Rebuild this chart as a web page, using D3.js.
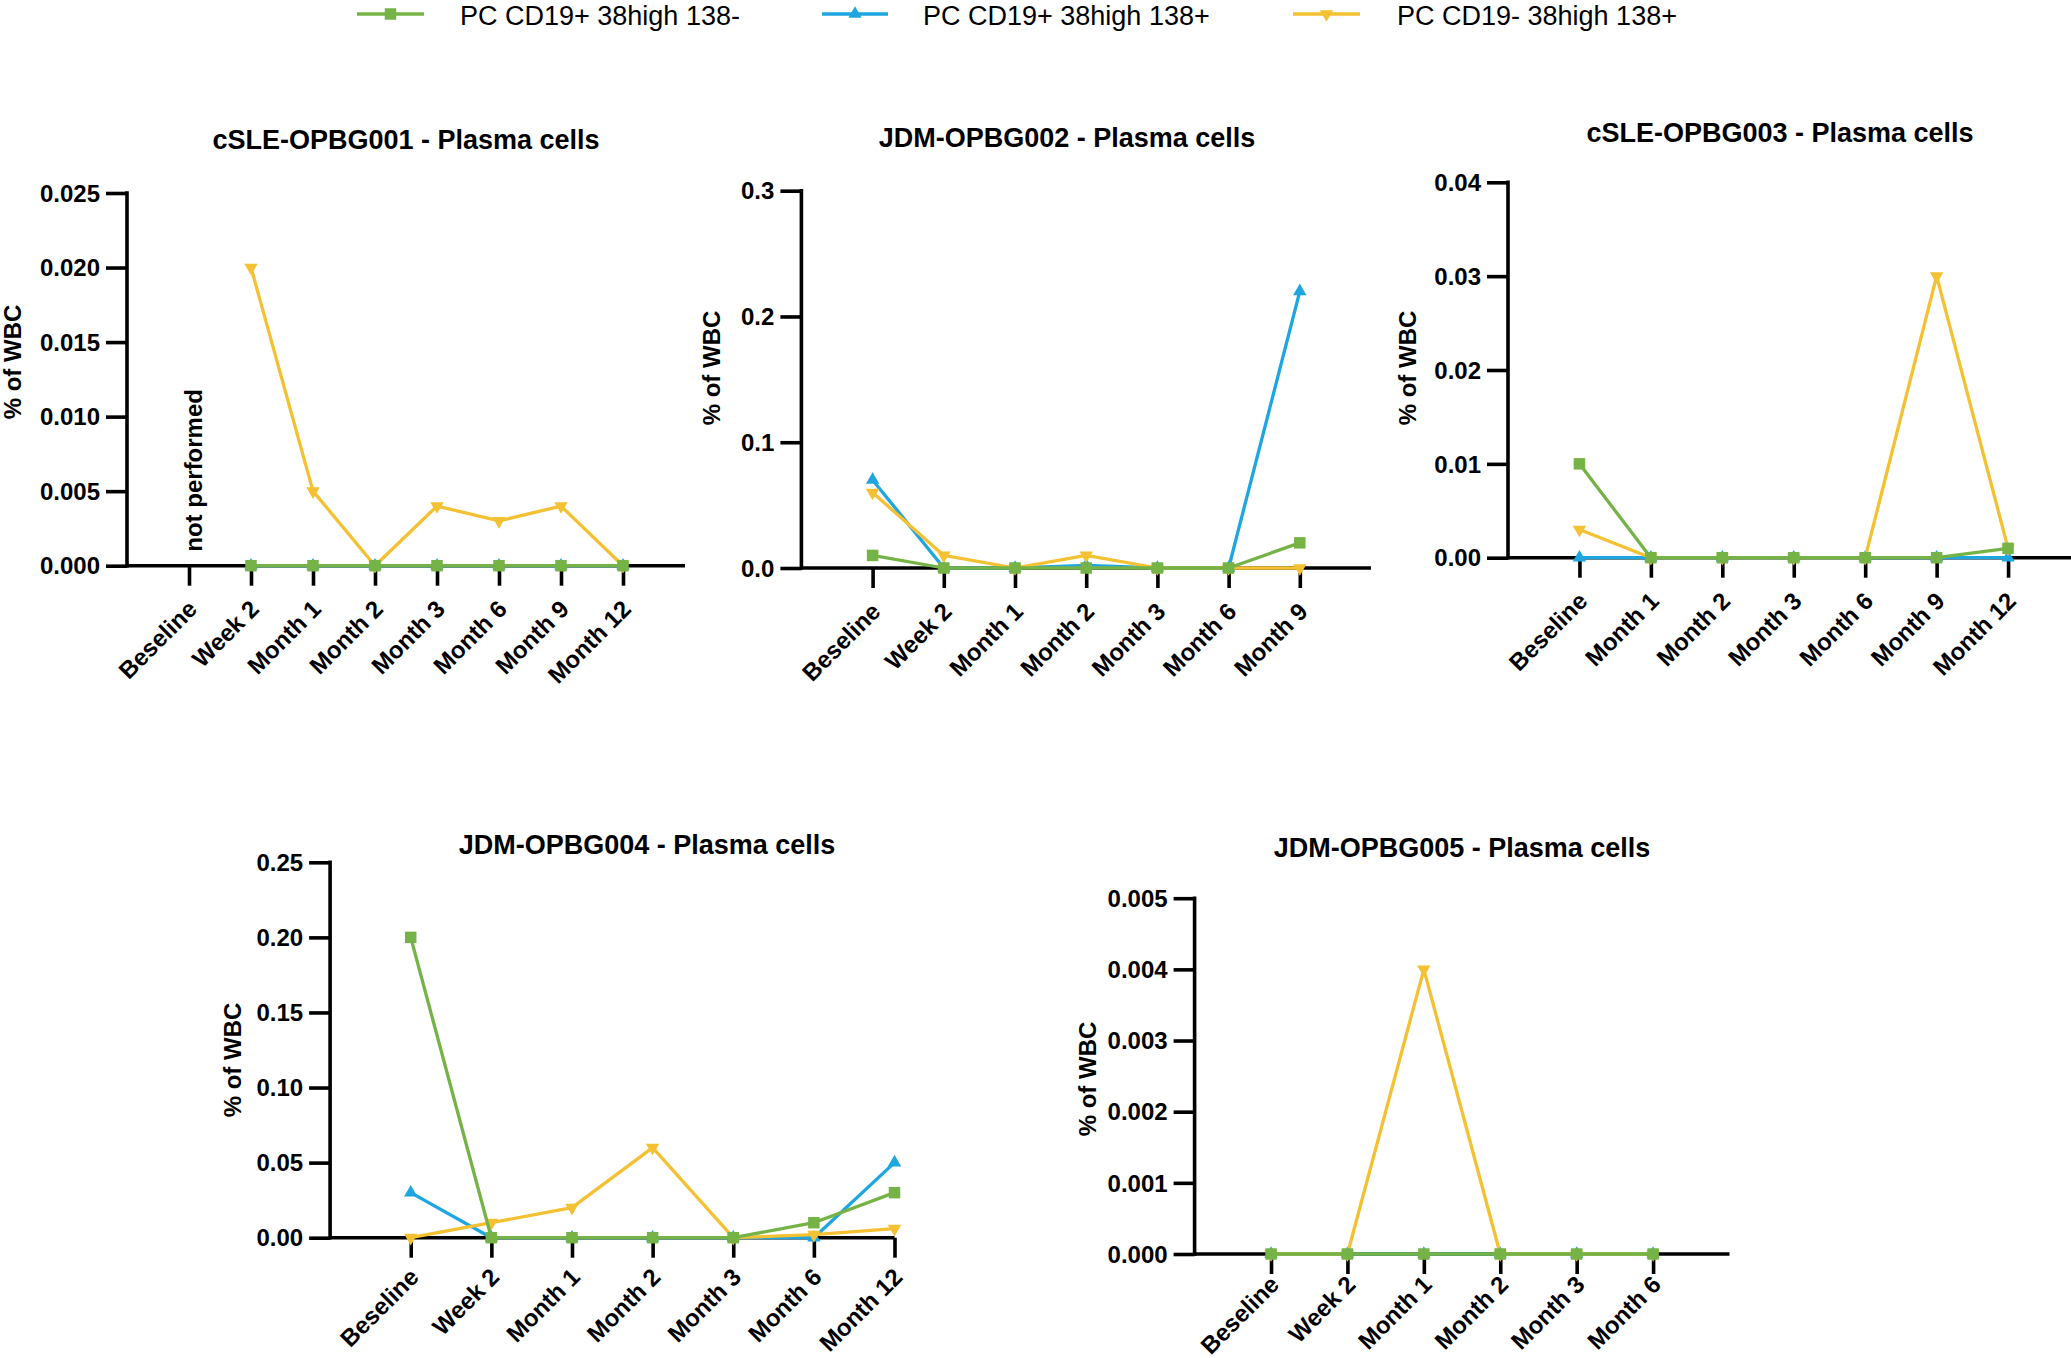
<!DOCTYPE html>
<html>
<head>
<meta charset="utf-8">
<script src="https://cdn.jsdelivr.net/npm/d3@7"></script>
<style>
  html, body { margin: 0; padding: 0; background: #fff; }
  svg { display: block; font-family: "Liberation Sans", Arial, Helvetica, sans-serif; }
</style>
</head>
<body>
<script>
// ---------------- DATA ----------------
const seriesNames = ["PC CD19+ 38high 138-", "PC CD19+ 38high 138+", "PC CD19- 38high 138+"];
const seriesColors = ["#76b347", "#1ea6e0", "#f4c133"];

const titles = [
  "cSLE-OPBG001 - Plasma cells",
  "JDM-OPBG002 - Plasma cells",
  "cSLE-OPBG003 - Plasma cells",
  "JDM-OPBG004 - Plasma cells",
  "JDM-OPBG005 - Plasma cells"
];

const cats1 = ["Beseline", "Week 2", "Month 1", "Month 2", "Month 3", "Month 6", "Month 9", "Month 12"];
const cats2 = ["Beseline", "Week 2", "Month 1", "Month 2", "Month 3", "Month 6", "Month 9"];
const cats3 = ["Beseline", "Month 1", "Month 2", "Month 3", "Month 6", "Month 9", "Month 12"];
const cats4 = ["Beseline", "Week 2", "Month 1", "Month 2", "Month 3", "Month 6", "Month 12"];
const cats5 = ["Beseline", "Week 2", "Month 1", "Month 2", "Month 3", "Month 6"];

// series: green (CD19+ 138-), blue (CD19+ 138+), yellow (CD19- 138+)
const p1Green  = [null, 0, 0, 0, 0, 0, 0, 0];
const p1Blue   = [null, 0, 0, 0, 0, 0, 0, 0];
const p1Yellow = [null, 0.020, 0.005, 0, 0.004, 0.003, 0.004, 0];

const p2Green  = [0.01, 0, 0, 0, 0, 0, 0.02];
const p2Blue   = [0.07, 0, 0, 0.002, 0, 0, 0.22];
const p2Yellow = [0.06, 0.01, 0, 0.01, 0, 0, 0];

const p3Green  = [0.01, 0, 0, 0, 0, 0, 0.001];
const p3Blue   = [0, 0, 0, 0, 0, 0, 0];
const p3Yellow = [0.003, 0, 0, 0, 0, 0.03, 0.001];

const p4Green  = [0.20, 0, 0, 0, 0, 0.01, 0.03];
const p4Blue   = [0.03, 0, 0, 0, 0, 0, 0.05];
const p4Yellow = [0, 0.01, 0.02, 0.06, 0, 0.002, 0.006];

const p5Green  = [0, 0, 0, 0, 0, 0];
const p5Blue   = [0, 0, 0, 0, 0, 0];
const p5Yellow = [0, 0, 0.004, 0, 0, 0];

const yTicks1 = [0, 0.005, 0.010, 0.015, 0.020, 0.025];
const yTicks2 = [0, 0.1, 0.2, 0.3];
const yTicks3 = [0, 0.01, 0.02, 0.03, 0.04];
const yTicks4 = [0, 0.05, 0.10, 0.15, 0.20, 0.25];
const yTicks5 = [0, 0.001, 0.002, 0.003, 0.004, 0.005];

const yFormats = [".3f", ".1f", ".2f", ".2f", ".3f"];
const yAxisTitle = "% of WBC";
const notPerformedText = "not performed";

// ---------------- LAYOUT ----------------
const W = 2071, H = 1358;
const layout = [
  { x0: 127,    x1: 685,    yTop: 193,   yZero: 565.7, padL: 1, padR: 1, tx: 406,  ty: 140,   ytx: 12.5,  yty: 362,  lox: 3, loy: 39 },
  { x0: 801.4,  x1: 1371,   yTop: 190.7, yZero: 568,   padL: 1, padR: 1, tx: 1067, ty: 138,   ytx: 712,   yty: 368,  lox: 3, loy: 39 },
  { x0: 1508,   x1: 2079.5, yTop: 182.3, yZero: 557.7, padL: 1, padR: 1, tx: 1780, ty: 132.5, ytx: 1408,  yty: 368,  lox: 3, loy: 39 },
  { x0: 330.1,  x1: 894.5,  yTop: 862.3, yZero: 1237.7,padL: 1, padR: 0, tx: 647,  ty: 844.5, ytx: 232.5, yty: 1060, lox: 3, loy: 35 },
  { x0: 1194.6, x1: 1729.5, yTop: 898.2, yZero: 1254,  padL: 1, padR: 1, tx: 1462, ty: 847.4, ytx: 1088,  yty: 1079, lox: 3, loy: 26 }
];

const panels = [
  { cats: cats1, series: [p1Green, p1Blue, p1Yellow], ticks: yTicks1 },
  { cats: cats2, series: [p2Green, p2Blue, p2Yellow], ticks: yTicks2 },
  { cats: cats3, series: [p3Green, p3Blue, p3Yellow], ticks: yTicks3 },
  { cats: cats4, series: [p4Green, p4Blue, p4Yellow], ticks: yTicks4 },
  { cats: cats5, series: [p5Green, p5Blue, p5Yellow], ticks: yTicks5 }
];

const svg = d3.select("body").append("svg")
  .attr("width", W).attr("height", H)
  .attr("viewBox", `0 0 ${W} ${H}`);
svg.append("rect").attr("width", W).attr("height", H).attr("fill", "#fff");

const AXIS_W = 3.6, LINE_W = 3.3;
const TICK_FONT = 24, TITLE_FONT = 27;

const symSquare = d3.symbol().type(d3.symbolSquare).size(132);
const symTri = d3.symbol().type(d3.symbolTriangle).size(78);
function markerPath(k) { return k === 0 ? symSquare() : symTri(); }
function markerTransform(k, x, y) {
  return k === 2 ? `translate(${x},${y}) rotate(180)` : `translate(${x},${y})`;
}

// drawing order: blue, yellow, green (green on top)
const drawOrder = [1, 2, 0];

panels.forEach((p, i) => {
  const L = layout[i];
  const n = p.cats.length;
  const step = (L.x1 - L.x0) / (n - 1 + L.padL + L.padR);
  const x = d3.scalePoint().domain(p.cats)
    .range([L.x0 + L.padL * step, L.x1 - L.padR * step]).padding(0);
  const y = d3.scaleLinear().domain([0, p.ticks[p.ticks.length - 1]])
    .range([L.yZero, L.yTop]);

  const g = svg.append("g");

  // Y axis
  const yAxis = d3.axisLeft(y).tickValues(p.ticks).tickFormat(d3.format(yFormats[i]))
    .tickSize(21).tickSizeOuter(0).tickPadding(6);
  const gy = g.append("g").attr("transform", `translate(${L.x0},0)`).call(yAxis);
  gy.select(".domain").remove();
  gy.selectAll(".tick line").attr("stroke", "#000").attr("stroke-width", AXIS_W);
  gy.selectAll(".tick text").attr("font-size", TICK_FONT).attr("font-weight", "bold")
    .attr("fill", "#000").attr("dy", "0.34em");

  // X axis
  const xAxis = d3.axisBottom(x).tickSize(20).tickSizeOuter(0);
  const gx = g.append("g").attr("transform", `translate(0,${L.yZero})`).call(xAxis);
  gx.select(".domain").remove();
  gx.selectAll(".tick line").attr("stroke", "#000").attr("stroke-width", AXIS_W);
  gx.selectAll(".tick text")
    .attr("font-size", TICK_FONT).attr("font-weight", "bold").attr("fill", "#000")
    .attr("x", 0).attr("y", 0).attr("dy", "0.35em")
    .attr("text-anchor", "end")
    .attr("transform", `translate(${L.lox},${L.loy}) rotate(-45)`);

  // axis lines
  g.append("line").attr("x1", L.x0).attr("x2", L.x0)
    .attr("y1", L.yTop - AXIS_W / 2).attr("y2", L.yZero + AXIS_W / 2)
    .attr("stroke", "#000").attr("stroke-width", AXIS_W);
  g.append("line").attr("x1", L.x0).attr("x2", L.x1)
    .attr("y1", L.yZero).attr("y2", L.yZero)
    .attr("stroke", "#000").attr("stroke-width", AXIS_W);

  // series
  drawOrder.forEach(k => {
    const vals = p.series[k];
    const pts = p.cats.map((c, j) => ({ c, v: vals[j] })).filter(d => d.v !== null);
    const line = d3.line().x(d => x(d.c)).y(d => y(d.v));
    g.append("path").datum(pts).attr("d", line)
      .attr("fill", "none").attr("stroke", seriesColors[k])
      .attr("stroke-width", LINE_W).attr("stroke-linejoin", "round");
    g.selectAll(null).data(pts).enter().append("path")
      .attr("d", markerPath(k))
      .attr("transform", d => markerTransform(k, x(d.c), y(d.v)))
      .attr("fill", seriesColors[k]);
  });

  // title
  g.append("text").attr("x", L.tx).attr("y", L.ty).attr("dy", "0.35em")
    .attr("text-anchor", "middle").attr("font-size", TITLE_FONT).attr("font-weight", "bold")
    .text(titles[i]);

  // y axis title
  g.append("text").attr("transform", `translate(${L.ytx},${L.yty}) rotate(-90)`)
    .attr("dy", "0.35em").attr("text-anchor", "middle")
    .attr("font-size", TICK_FONT).attr("font-weight", "bold")
    .text(yAxisTitle);

  if (i === 0) {
    g.append("text")
      .attr("transform", `translate(${x(p.cats[0]) + 5},${L.yZero - 14}) rotate(-90)`)
      .attr("dy", "0.35em").attr("text-anchor", "start")
      .attr("font-size", TICK_FONT).attr("font-weight", "bold")
      .text(notPerformedText);
  }
});

// ---------------- LEGEND ----------------
const legendPos = [
  { lx0: 357, lx1: 424, tx: 460 },
  { lx0: 822, lx1: 888, tx: 923 },
  { lx0: 1293, lx1: 1360, tx: 1397 }
];
const legY = 14;
const lg = svg.append("g");
seriesNames.forEach((name, k) => {
  const P = legendPos[k];
  lg.append("line").attr("x1", P.lx0).attr("x2", P.lx1).attr("y1", legY).attr("y2", legY)
    .attr("stroke", seriesColors[k]).attr("stroke-width", LINE_W);
  lg.append("path").attr("d", markerPath(k))
    .attr("transform", markerTransform(k, (P.lx0 + P.lx1) / 2, legY))
    .attr("fill", seriesColors[k]);
  lg.append("text").attr("x", P.tx).attr("y", 25)
    .attr("font-size", 27).attr("fill", "#000").text(name);
});
</script>
</body>
</html>
